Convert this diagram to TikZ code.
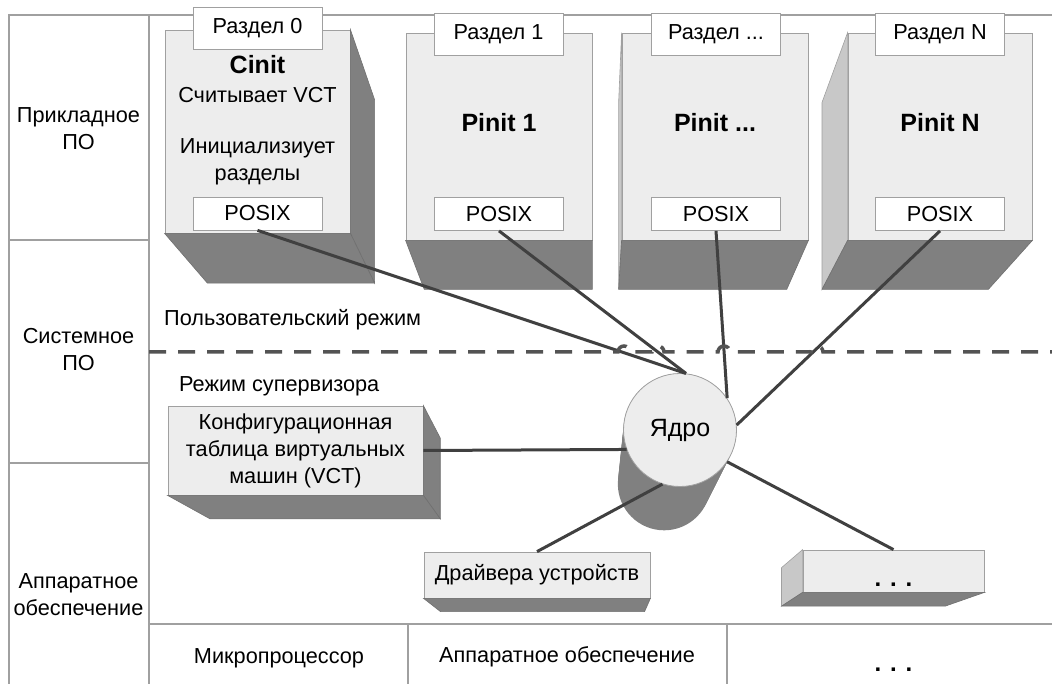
\documentclass[tikz,border=0pt]{standalone}
\usepackage{fontspec}
\setmainfont{Liberation Sans}
\usetikzlibrary{calc}

\definecolor{facegray}{HTML}{EDEDED}
\definecolor{shadegray}{HTML}{808080}
\definecolor{sidegray}{HTML}{C8C8C8}
\definecolor{edgegray}{HTML}{A0A0A0}
\definecolor{linkgray}{HTML}{404040}

\tikzset{
  lbl/.style={font=\fontsize{21.7}{27}\selectfont, align=center, inner sep=0pt},
  headlbl/.style={font=\fontsize{25}{28}\selectfont\bfseries, inner sep=0pt},
  dotslbl/.style={font=\fontsize{24}{27}\selectfont\bfseries, inner sep=0pt, anchor=base},
  frontface/.style={draw=edgegray, fill=facegray, line width=0.8pt, inner sep=0pt},
  tabbox/.style={lbl, draw=edgegray, fill=white, line width=0.8pt, minimum width=129, minimum height=42},
  posixbox/.style={lbl, draw=edgegray, fill=white, line width=0.8pt, minimum width=129, minimum height=33},
  darkface/.style={fill=shadegray, draw=edgegray!70!black, line width=0.6pt},
  liteface/.style={fill=sidegray, draw=edgegray, line width=0.6pt},
  framerule/.style={draw=edgegray, line width=1.2pt},
  link/.style={draw=linkgray, line width=3pt},
  divider/.style={draw=linkgray!90, line width=3.5pt, dash pattern=on 17pt off 12pt},
}

% side faces of a box, pulled from its front face towards (vp)
\newcommand{\bottomside}[1]{%
  \fill[darkface] (#1.south west) -- (#1.south east) -- ($(#1.south east)!\deep!(vp)$) -- ($(#1.south west)!\deep!(vp)$) -- cycle;}
\newcommand{\rightside}[1]{%
  \fill[darkface] (#1.north east) -- (#1.south east) -- ($(#1.south east)!\deep!(vp)$) -- ($(#1.north east)!\deep!(vp)$) -- cycle;}
\newcommand{\leftside}[1]{%
  \fill[liteface] (#1.north west) -- (#1.south west) -- ($(#1.south west)!\deep!(vp)$) -- ($(#1.north west)!\deep!(vp)$) -- cycle;}

\begin{document}
\begin{tikzpicture}[x=1pt,y=-1pt]
  \def\deep{0.1}
  \useasboundingbox (0,0) rectangle (1052,684);
  \coordinate (vp) at (592,730);

  % layer table
  \draw[framerule] (9,684) -- (9,15) -- (1052,15);
  \draw[framerule] (149,15) -- (149,684);
  \draw[framerule] (9,240) -- (149,240);
  \draw[framerule] (9,463) -- (149,463);
  \draw[framerule] (149,624) -- (1052,624);
  \draw[framerule] (408,624) -- (408,684);
  \draw[framerule] (727,624) -- (727,684);

  \node[lbl] (appsw) at (78.5,129) {Прикладное\\ПО};
  \node[lbl] (syssw) at (78.5,350) {Системное\\ПО};
  \node[lbl] (hwsw) at (78.5,595) {Аппаратное\\обеспечение};
  \node[lbl, anchor=base] (cpu) at (279,663) {Микропроцессор};
  \node[lbl, anchor=base] (hw) at (567,662) {Аппаратное обеспечение};
  \node[dotslbl] (hwetc) at (893.5,671) {. . .};

  \node[lbl, anchor=west] (usermode) at (164,320) {Пользовательский режим};
  \node[lbl, anchor=west] (supmode) at (179,386) {Режим супервизора};

  % partitions
  \node[frontface, minimum width=185, minimum height=203] (part0) at (257.5,131.5) {};
  \rightside{part0}
  \bottomside{part0}
  \node[tabbox] (tab0) at (257.5,28) {Раздел 0};
  \node[headlbl] (cinit) at (257.5,65) {Cinit};
  \node[lbl] (cinitread) at (257.5,95) {Считывает VCT};
  \node[lbl] (cinitjob) at (257.5,162) {Инициализиует\\разделы};
  \node[posixbox] (posix0) at (257.5,213.5) {POSIX};

  \node[frontface, minimum width=186, minimum height=207] (part1) at (499,136.5) {};
  \bottomside{part1}
  \node[tabbox] (tab1) at (498.5,34) {Раздел 1};
  \node[headlbl] (pinit1) at (499,123) {Pinit 1};
  \node[posixbox] (posix1) at (499,214) {POSIX};

  \node[frontface, minimum width=186, minimum height=207] (part2) at (715,136.5) {};
  \leftside{part2}
  \bottomside{part2}
  \node[tabbox] (tab2) at (716,34) {Раздел ...};
  \node[headlbl] (pinit2) at (715,123) {Pinit ...};
  \node[posixbox] (posix2) at (716,214) {POSIX};

  \node[frontface, minimum width=184, minimum height=207] (partN) at (940,136.5) {};
  \leftside{partN}
  \bottomside{partN}
  \node[tabbox] (tabN) at (940,34) {Раздел N};
  \node[headlbl] (pinitN) at (940,123) {Pinit N};
  \node[posixbox] (posixN) at (940,214) {POSIX};

  % supervisor side
  \node[frontface, lbl, minimum width=255, minimum height=89] (vct) at (295.5,450.5)
    {Конфигурационная\\таблица виртуальных\\машин (VCT)};
  \rightside{vct}
  \bottomside{vct}

  \node[frontface, lbl, minimum width=226, minimum height=46] (drivers) at (537,575) {Драйвера устройств};
  \bottomside{drivers}

  \node[frontface, minimum width=181, minimum height=42] (more) at (893.5,571) {};
  \leftside{more}
  \bottomside{more}
  \node[dotslbl] (moreetc) at (893.5,586) {. . .};

  % kernel drum: stack of discs shrinking towards (vp)
  \coordinate (kc) at (680,430);
  \foreach \k in {0,0.01,...,0.18}
    \fill[shadegray] ($(kc)!\k!(vp)$) circle[radius={56.5*(1-\k)}];
  \node[frontface, lbl, font=\fontsize{25}{28}\selectfont, circle, minimum size=113] (kern) at (kc) {Ядро};

  \draw[link] (posix0.south) -- (kern.84);
  \draw[link] (posix1.south) -- (kern.84);
  \draw[link] (posix2.south) -- (kern.34);
  \draw[link] (posixN.south) -- (kern.5);
  \draw[link] (vct.east) -- (kern.200);
  \draw[link] (drivers.north) -- (kern.252);
  \draw[link] (more.north) -- (kern.326);

  % user/supervisor boundary, hopping over the links
  \draw[divider] (149,352)
    \foreach \hx in {624,658,724,817}{ -- (\hx-6,352) arc[start angle=180, end angle=360, radius=6] }
    -- (1052,352);
\end{tikzpicture}
\end{document}
